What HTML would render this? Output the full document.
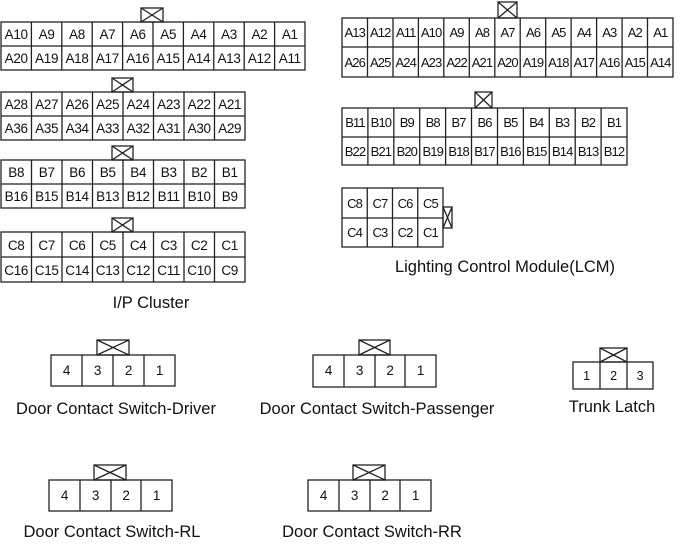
<!DOCTYPE html>
<html><head><meta charset="utf-8"><style>
html,body{margin:0;padding:0;background:#fff;}
svg{display:block;}
text{font-family:"Liberation Sans",sans-serif;fill:#111;text-anchor:middle;}
.c{font-size:13.5px;letter-spacing:-0.3px;}
.s{font-size:13px;letter-spacing:-0.9px;}
.l{font-size:16.5px;}
rect,line{stroke:#222;stroke-width:1.3;fill:none;}
</style></head><body>
<svg width="700" height="545" viewBox="0 0 700 545" xmlns="http://www.w3.org/2000/svg">
<!-- IP A -->
<rect x="1" y="22" width="304" height="48"/><line x1="1" y1="46" x2="305" y2="46"/>
<line x1="31.4" y1="22" x2="31.4" y2="70"/><line x1="61.8" y1="22" x2="61.8" y2="70"/><line x1="92.2" y1="22" x2="92.2" y2="70"/><line x1="122.6" y1="22" x2="122.6" y2="70"/><line x1="153" y1="22" x2="153" y2="70"/><line x1="183.4" y1="22" x2="183.4" y2="70"/><line x1="213.8" y1="22" x2="213.8" y2="70"/><line x1="244.2" y1="22" x2="244.2" y2="70"/><line x1="274.6" y1="22" x2="274.6" y2="70"/>
<rect x="141" y="8" width="22" height="14"/><line x1="141" y1="8" x2="163" y2="22"/><line x1="163" y1="8" x2="141" y2="22"/>
<g class="c">
<text x="16.2" y="39">A10</text><text x="46.6" y="39">A9</text><text x="77" y="39">A8</text><text x="107.4" y="39">A7</text><text x="137.8" y="39">A6</text><text x="168.2" y="39">A5</text><text x="198.6" y="39">A4</text><text x="229" y="39">A3</text><text x="259.4" y="39">A2</text><text x="289.8" y="39">A1</text>
<text x="16.2" y="63">A20</text><text x="46.6" y="63">A19</text><text x="77" y="63">A18</text><text x="107.4" y="63">A17</text><text x="137.8" y="63">A16</text><text x="168.2" y="63">A15</text><text x="198.6" y="63">A14</text><text x="229" y="63">A13</text><text x="259.4" y="63">A12</text><text x="289.8" y="63">A11</text>
</g>
<!-- IP A2 -->
<rect x="1" y="92" width="244" height="48"/><line x1="1" y1="116" x2="245" y2="116"/>
<line x1="31.5" y1="92" x2="31.5" y2="140"/><line x1="62" y1="92" x2="62" y2="140"/><line x1="92.5" y1="92" x2="92.5" y2="140"/><line x1="123" y1="92" x2="123" y2="140"/><line x1="153.5" y1="92" x2="153.5" y2="140"/><line x1="184" y1="92" x2="184" y2="140"/><line x1="214.5" y1="92" x2="214.5" y2="140"/>
<rect x="112" y="78" width="21" height="14"/><line x1="112" y1="78" x2="133" y2="92"/><line x1="133" y1="78" x2="112" y2="92"/>
<g class="c">
<text x="16.2" y="109">A28</text><text x="46.7" y="109">A27</text><text x="77.2" y="109">A26</text><text x="107.7" y="109">A25</text><text x="138.2" y="109">A24</text><text x="168.7" y="109">A23</text><text x="199.2" y="109">A22</text><text x="229.7" y="109">A21</text>
<text x="16.2" y="133">A36</text><text x="46.7" y="133">A35</text><text x="77.2" y="133">A34</text><text x="107.7" y="133">A33</text><text x="138.2" y="133">A32</text><text x="168.7" y="133">A31</text><text x="199.2" y="133">A30</text><text x="229.7" y="133">A29</text>
</g>
<!-- IP B -->
<rect x="1" y="160" width="244" height="48"/><line x1="1" y1="184" x2="245" y2="184"/>
<line x1="31.5" y1="160" x2="31.5" y2="208"/><line x1="62" y1="160" x2="62" y2="208"/><line x1="92.5" y1="160" x2="92.5" y2="208"/><line x1="123" y1="160" x2="123" y2="208"/><line x1="153.5" y1="160" x2="153.5" y2="208"/><line x1="184" y1="160" x2="184" y2="208"/><line x1="214.5" y1="160" x2="214.5" y2="208"/>
<rect x="112" y="146" width="21" height="14"/><line x1="112" y1="146" x2="133" y2="160"/><line x1="133" y1="146" x2="112" y2="160"/>
<g class="c">
<text x="16.2" y="177">B8</text><text x="46.7" y="177">B7</text><text x="77.2" y="177">B6</text><text x="107.7" y="177">B5</text><text x="138.2" y="177">B4</text><text x="168.7" y="177">B3</text><text x="199.2" y="177">B2</text><text x="229.7" y="177">B1</text>
<text x="16.2" y="201">B16</text><text x="46.7" y="201">B15</text><text x="77.2" y="201">B14</text><text x="107.7" y="201">B13</text><text x="138.2" y="201">B12</text><text x="168.7" y="201">B11</text><text x="199.2" y="201">B10</text><text x="229.7" y="201">B9</text>
</g>
<!-- IP C -->
<rect x="1" y="232" width="244" height="50"/><line x1="1" y1="257" x2="245" y2="257"/>
<line x1="31.5" y1="232" x2="31.5" y2="282"/><line x1="62" y1="232" x2="62" y2="282"/><line x1="92.5" y1="232" x2="92.5" y2="282"/><line x1="123" y1="232" x2="123" y2="282"/><line x1="153.5" y1="232" x2="153.5" y2="282"/><line x1="184" y1="232" x2="184" y2="282"/><line x1="214.5" y1="232" x2="214.5" y2="282"/>
<rect x="112" y="218" width="21" height="14"/><line x1="112" y1="218" x2="133" y2="232"/><line x1="133" y1="218" x2="112" y2="232"/>
<g class="c">
<text x="16.2" y="250">C8</text><text x="46.7" y="250">C7</text><text x="77.2" y="250">C6</text><text x="107.7" y="250">C5</text><text x="138.2" y="250">C4</text><text x="168.7" y="250">C3</text><text x="199.2" y="250">C2</text><text x="229.7" y="250">C1</text>
<text x="16.2" y="275">C16</text><text x="46.7" y="275">C15</text><text x="77.2" y="275">C14</text><text x="107.7" y="275">C13</text><text x="138.2" y="275">C12</text><text x="168.7" y="275">C11</text><text x="199.2" y="275">C10</text><text x="229.7" y="275">C9</text>
</g>
<text class="l" x="151" y="308">I/P Cluster</text>

<!-- LCM A -->
<rect x="342" y="18" width="331" height="59"/><line x1="342" y1="47" x2="673" y2="47"/>
<line x1="367.5" y1="18" x2="367.5" y2="77"/><line x1="393" y1="18" x2="393" y2="77"/><line x1="418.4" y1="18" x2="418.4" y2="77"/><line x1="443.8" y1="18" x2="443.8" y2="77"/><line x1="469.3" y1="18" x2="469.3" y2="77"/><line x1="494.8" y1="18" x2="494.8" y2="77"/><line x1="520.2" y1="18" x2="520.2" y2="77"/><line x1="545.7" y1="18" x2="545.7" y2="77"/><line x1="571.1" y1="18" x2="571.1" y2="77"/><line x1="596.6" y1="18" x2="596.6" y2="77"/><line x1="622.1" y1="18" x2="622.1" y2="77"/><line x1="647.5" y1="18" x2="647.5" y2="77"/>
<rect x="498" y="2" width="19" height="16"/><line x1="498" y1="2" x2="517" y2="18"/><line x1="517" y1="2" x2="498" y2="18"/>
<g class="s">
<text x="354.7" y="37">A13</text><text x="380.2" y="37">A12</text><text x="405.7" y="37">A11</text><text x="431.1" y="37">A10</text><text x="456.6" y="37">A9</text><text x="482" y="37">A8</text><text x="507.5" y="37">A7</text><text x="533" y="37">A6</text><text x="558.4" y="37">A5</text><text x="583.9" y="37">A4</text><text x="609.3" y="37">A3</text><text x="634.8" y="37">A2</text><text x="660.3" y="37">A1</text>
<text x="354.7" y="67">A26</text><text x="380.2" y="67">A25</text><text x="405.7" y="67">A24</text><text x="431.1" y="67">A23</text><text x="456.6" y="67">A22</text><text x="482" y="67">A21</text><text x="507.5" y="67">A20</text><text x="533" y="67">A19</text><text x="558.4" y="67">A18</text><text x="583.9" y="67">A17</text><text x="609.3" y="67">A16</text><text x="634.8" y="67">A15</text><text x="660.3" y="67">A14</text>
</g>
<!-- LCM B -->
<rect x="342" y="108" width="285" height="57"/><line x1="342" y1="137" x2="627" y2="137"/>
<line x1="367.9" y1="108" x2="367.9" y2="165"/><line x1="393.8" y1="108" x2="393.8" y2="165"/><line x1="419.7" y1="108" x2="419.7" y2="165"/><line x1="445.6" y1="108" x2="445.6" y2="165"/><line x1="471.5" y1="108" x2="471.5" y2="165"/><line x1="497.5" y1="108" x2="497.5" y2="165"/><line x1="523.4" y1="108" x2="523.4" y2="165"/><line x1="549.3" y1="108" x2="549.3" y2="165"/><line x1="575.2" y1="108" x2="575.2" y2="165"/><line x1="601.1" y1="108" x2="601.1" y2="165"/>
<rect x="475" y="92" width="17" height="16"/><line x1="475" y1="92" x2="492" y2="108"/><line x1="492" y1="92" x2="475" y2="108"/>
<g class="s">
<text x="355" y="127">B11</text><text x="380.9" y="127">B10</text><text x="406.8" y="127">B9</text><text x="432.7" y="127">B8</text><text x="458.6" y="127">B7</text><text x="484.5" y="127">B6</text><text x="510.4" y="127">B5</text><text x="536.3" y="127">B4</text><text x="562.2" y="127">B3</text><text x="588.1" y="127">B2</text><text x="614" y="127">B1</text>
<text x="355" y="156">B22</text><text x="380.9" y="156">B21</text><text x="406.8" y="156">B20</text><text x="432.7" y="156">B19</text><text x="458.6" y="156">B18</text><text x="484.5" y="156">B17</text><text x="510.4" y="156">B16</text><text x="536.3" y="156">B15</text><text x="562.2" y="156">B14</text><text x="588.1" y="156">B13</text><text x="614" y="156">B12</text>
</g>
<!-- LCM C -->
<rect x="342" y="188" width="101" height="59"/><line x1="342" y1="218" x2="443" y2="218"/>
<line x1="367.25" y1="188" x2="367.25" y2="247"/><line x1="392.5" y1="188" x2="392.5" y2="247"/><line x1="417.75" y1="188" x2="417.75" y2="247"/>
<rect x="443" y="207" width="9" height="21"/><line x1="443" y1="207" x2="452" y2="228"/><line x1="452" y1="207" x2="443" y2="228"/>
<g class="s">
<text x="354.6" y="208">C8</text><text x="379.9" y="208">C7</text><text x="405.1" y="208">C6</text><text x="430.4" y="208">C5</text>
<text x="354.6" y="237">C4</text><text x="379.9" y="237">C3</text><text x="405.1" y="237">C2</text><text x="430.4" y="237">C1</text>
</g>
<text class="l" x="505" y="272">Lighting Control Module(LCM)</text>

<!-- Driver -->
<rect x="51" y="355" width="124" height="31"/>
<line x1="82" y1="355" x2="82" y2="386"/><line x1="113" y1="355" x2="113" y2="386"/><line x1="144" y1="355" x2="144" y2="386"/>
<rect x="97" y="340" width="32" height="15"/><line x1="97" y1="340" x2="129" y2="355"/><line x1="129" y1="340" x2="97" y2="355"/>
<g class="c"><text x="66.5" y="375">4</text><text x="97.5" y="375">3</text><text x="128.5" y="375">2</text><text x="159.5" y="375">1</text></g>
<text class="l" x="116" y="414">Door Contact Switch-Driver</text>

<!-- Passenger -->
<rect x="313" y="355" width="123" height="32"/>
<line x1="344" y1="355" x2="344" y2="387"/><line x1="375" y1="355" x2="375" y2="387"/><line x1="405" y1="355" x2="405" y2="387"/>
<rect x="359" y="340" width="31" height="15"/><line x1="359" y1="340" x2="390" y2="355"/><line x1="390" y1="340" x2="359" y2="355"/>
<g class="c"><text x="328.5" y="375">4</text><text x="359.5" y="375">3</text><text x="390" y="375">2</text><text x="420.5" y="375">1</text></g>
<text class="l" x="377" y="414">Door Contact Switch-Passenger</text>

<!-- Trunk -->
<rect x="573" y="362" width="80" height="27"/>
<line x1="600" y1="362" x2="600" y2="389"/><line x1="627" y1="362" x2="627" y2="389"/>
<rect x="600" y="348" width="27" height="14"/><line x1="600" y1="348" x2="627" y2="362"/><line x1="627" y1="348" x2="600" y2="362"/>
<g class="c" style="font-size:12.5px"><text x="586.5" y="380">1</text><text x="613.5" y="380">2</text><text x="640" y="380">3</text></g>
<text class="l" x="612" y="412">Trunk Latch</text>

<!-- RL -->
<rect x="49" y="480" width="123" height="31"/>
<line x1="80" y1="480" x2="80" y2="511"/><line x1="111" y1="480" x2="111" y2="511"/><line x1="141" y1="480" x2="141" y2="511"/>
<rect x="94" y="465" width="32" height="15"/><line x1="94" y1="465" x2="126" y2="480"/><line x1="126" y1="465" x2="94" y2="480"/>
<g class="c"><text x="64.5" y="500">4</text><text x="95.5" y="500">3</text><text x="126" y="500">2</text><text x="156.5" y="500">1</text></g>
<text class="l" x="112" y="537">Door Contact Switch-RL</text>

<!-- RR -->
<rect x="308" y="480" width="123" height="31"/>
<line x1="339" y1="480" x2="339" y2="511"/><line x1="370" y1="480" x2="370" y2="511"/><line x1="400" y1="480" x2="400" y2="511"/>
<rect x="353" y="465" width="32" height="15"/><line x1="353" y1="465" x2="385" y2="480"/><line x1="385" y1="465" x2="353" y2="480"/>
<g class="c"><text x="323.5" y="500">4</text><text x="354.5" y="500">3</text><text x="385" y="500">2</text><text x="415.5" y="500">1</text></g>
<text class="l" x="372" y="537">Door Contact Switch-RR</text>
</svg>
</body></html>
